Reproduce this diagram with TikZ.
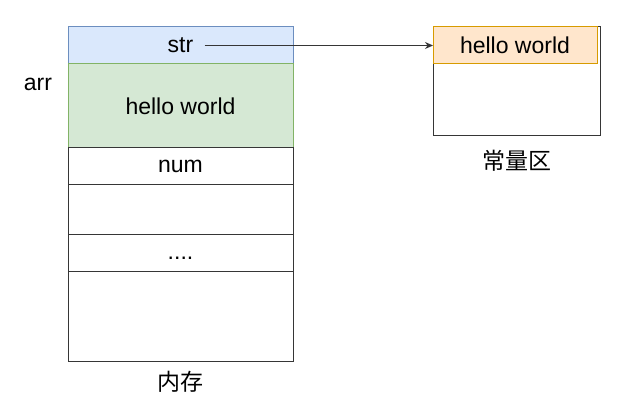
\documentclass[tikz,border=0pt]{standalone}
\usepackage{fontspec}
\setmainfont{Liberation Sans}
\newfontfamily\cjk{Noto Sans CJK SC}
\usetikzlibrary{arrows.meta, positioning}

\definecolor{blueFill}{HTML}{DAE8FC}
\definecolor{blueLine}{HTML}{6C8EBF}
\definecolor{greenFill}{HTML}{D5E8D4}
\definecolor{greenLine}{HTML}{82B366}
\definecolor{orangeFill}{HTML}{FFE6CC}
\definecolor{orangeLine}{HTML}{D79B00}
\definecolor{cellLine}{HTML}{363636}

\begin{document}
\begin{tikzpicture}[x=1pt, y=1pt,
    cell/.style={draw=cellLine, line width=1pt, minimum width=225pt, inner sep=0pt, outer sep=0pt, font=\fontsize{23}{27}\selectfont},
    label/.style={inner sep=0pt, font=\fontsize{23}{27}\selectfont},
    arrow/.style={-{Stealth[length=8pt, width=7pt]}, line width=0.9pt, draw=cellLine}
  ]
    \useasboundingbox (0,0) rectangle (626,-419);

    % memory column
    \node[cell, draw=blueLine, fill=blueFill, minimum height=37pt, anchor=north west] (strrow) at (68,-27) {str};
    \node[cell, draw=greenLine, fill=greenFill, minimum height=84pt, below=0pt of strrow] (hellorow) {hello world};
    \node[cell, minimum height=37pt, below=0pt of hellorow] (numrow) {num};
    \node[cell, minimum height=50pt, below=0pt of numrow] (emptyrow) {};
    \node[cell, minimum height=37pt, below=0pt of emptyrow] (dotsrow) {\smash{\raisebox{-6pt}{....}}};
    \node[cell, minimum height=89pt, below=0pt of dotsrow] (lastrow) {};

    \node[label] (arr) at (38,-84) {arr};
    \node[label, below=10pt of lastrow] (memlabel) {\cjk 内存};

    % constant area
    \node[cell, minimum width=167pt, minimum height=109pt, anchor=north west] (constbox) at (433,-27) {};
    \node[cell, draw=orangeLine, fill=orangeFill, minimum width=164pt, minimum height=37pt, anchor=north west] (consthead) at (constbox.north west) {hello world};
    \node[label, below=14pt of constbox] (constlabel) {\cjk 常量区};

    \draw[arrow] ([xshift=24pt]strrow.center) -- (consthead.west);
  \end{tikzpicture}
\end{document}
